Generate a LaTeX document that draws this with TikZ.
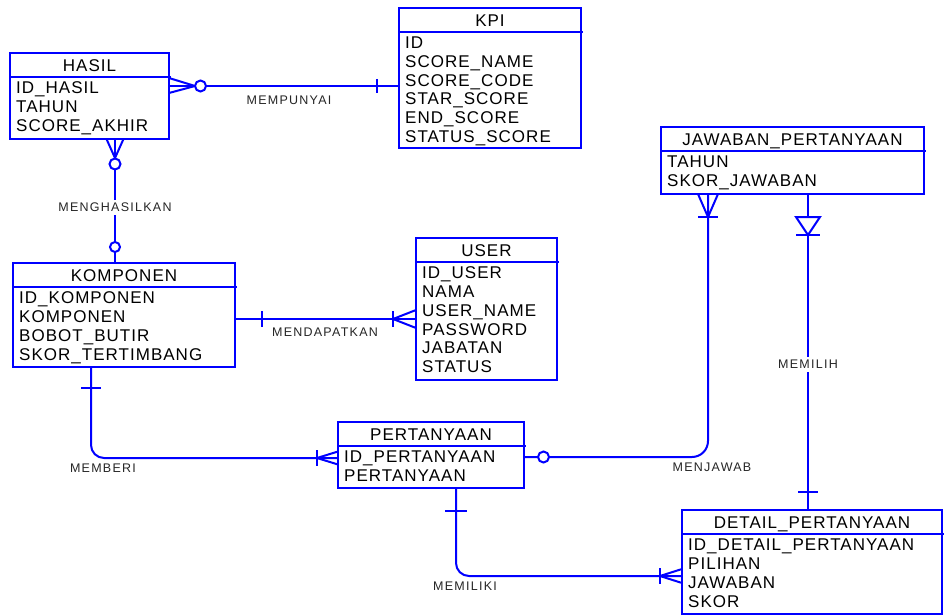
\documentclass[tikz,border=0pt]{standalone}
\usepackage{fontspec}
\setmainfont{Liberation Sans}
\newfontfamily\erfont{Liberation Sans}[LetterSpace=6]
\newfontfamily\relfont{Liberation Sans}[LetterSpace=10]
\usetikzlibrary{calc}

\definecolor{erblue}{RGB}{0,0,255}

\tikzset{
  er/.style={draw=erblue, line width=2pt},
  tbl/.style={draw=erblue, line width=2pt, rectangle, inner sep=0pt, outer sep=0pt, fill=white},
  ttl/.style={font=\erfont\fontsize{17}{20}\selectfont, inner sep=0pt, text height=12.2pt, text depth=0pt},
  fld/.style={font=\erfont\fontsize{17}{20}\selectfont, anchor=west, inner xsep=6pt, inner ysep=0pt, text height=12.2pt, text depth=0pt},
  rel/.style={font=\relfont\fontsize{12.5}{14}\selectfont, text=black!85, inner sep=1pt, text height=9pt, text depth=0pt},
  relw/.style={rel, fill=white, inner ysep=3pt}
}

% entity box: name, left, top, width, height, title, list of attributes
\newcommand{\erbox}[7]{%
  \node[tbl, minimum width=#4pt, minimum height=#5pt, anchor=north west] (#1) at (#2,#3) {};
  \draw[er] ($(#1.north west)+(0,24)$) -- ($(#1.north east)+(2,24)$);
  \node[ttl] (#1-t) at ($(#1.north)+(0,12)$) {#6};
  \foreach \r [count=\i] in {#7} {
    \node[fld] (#1-\i) at ($(#1.north west)+(0,{34.5+(\i-1)*18.8})$) {\r};
  }%
}

\begin{document}
\begin{tikzpicture}[x=1pt, y=-1pt]
\useasboundingbox[fill=white] (0,0) rectangle (944,615);

% ---------- entities ----------
\erbox{hasil}{10}{53}{159}{86}{HASIL}{ID\_HASIL,TAHUN,SCORE\_AKHIR}
\erbox{kpi}{399}{8}{182}{140}{KPI}{ID,SCORE\_NAME,SCORE\_CODE,STAR\_SCORE,END\_SCORE,STATUS\_SCORE}
\erbox{komponen}{13}{263}{222}{104}{KOMPONEN}{ID\_KOMPONEN,KOMPONEN,BOBOT\_BUTIR,SKOR\_TERTIMBANG}
\erbox{user}{416}{238}{141}{142}{USER}{ID\_USER,NAMA,USER\_NAME,PASSWORD,JABATAN,STATUS}
\erbox{pertanyaan}{338}{422}{186}{66}{PERTANYAAN}{ID\_PERTANYAAN,PERTANYAAN}
\erbox{jawaban}{661}{127}{263}{67}{JAWABAN\_PERTANYAAN}{TAHUN,SKOR\_JAWABAN}
\erbox{detail}{682}{510}{260}{104}{DETAIL\_PERTANYAAN}{ID\_DETAIL\_PERTANYAAN,PILIHAN,JAWABAN,SKOR}

% ---------- MEMPUNYAI : HASIL >o----| KPI ----------
\coordinate (a1) at ($(hasil.east)+(0,-10)$);
\coordinate (a2) at (a1 -| kpi.west);
\draw[er] (a1) -- (a2);
\draw[er] ($(a1)+(0,-8)$) -- ($(a1)+(26,0)$) -- ($(a1)+(0,7)$);
\draw[er, fill=white] ($(a1)+(31.5,0)$) circle (5.5pt);
\draw[er] ($(a2)+(-22,-7)$) -- ($(a2)+(-22,7)$);
\node[rel] (l-mempunyai) at (289,100) {MEMPUNYAI};

% ---------- MENGHASILKAN : HASIL >o----o KOMPONEN ----------
\coordinate (b1) at ($(hasil.south)+(25.5,0)$);
\coordinate (b2) at (b1 |- komponen.north);
\draw[er] (b1) -- (b2);
\draw[er] ($(b1)+(-8.5,0)$) -- ($(b1)+(0,19)$) -- ($(b1)+(8.5,0)$);
\draw[er, fill=white] ($(b1)+(0,25)$) circle (5.5pt);
\draw[er, fill=white] ($(b2)+(0,-16)$) circle (5pt);
\node[relw] (l-menghasilkan) at (115,207) {MENGHASILKAN};

% ---------- MENDAPATKAN : KOMPONEN |----|< USER ----------
\coordinate (c1) at ($(komponen.east)+(0,4)$);
\coordinate (c2) at (c1 -| user.west);
\draw[er] (c1) -- (c2);
\draw[er] ($(c1)+(27,-8)$) -- ($(c1)+(27,8)$);
\draw[er] ($(c2)+(0,-9)$) -- ($(c2)+(-23,0)$) -- ($(c2)+(0,9)$);
\draw[er] ($(c2)+(-23,-8)$) -- ($(c2)+(-23,8)$);
\node[rel] (l-mendapatkan) at (325,332) {MENDAPATKAN};

% ---------- MEMBERI : KOMPONEN |----|< PERTANYAAN ----------
\coordinate (d1) at ($(komponen.south)+(-33,0)$);
\coordinate (d2) at ($(pertanyaan.west)+(0,3)$);
\draw[er, rounded corners=13pt] (d1) -- (d1 |- d2) -- (d2);
\draw[er] ($(d1)+(-10,21)$) -- ($(d1)+(10,21)$);
\draw[er] ($(d2)+(0,-6.5)$) -- ($(d2)+(-21,0)$) -- ($(d2)+(0,6.5)$);
\draw[er] ($(d2)+(-21,-8)$) -- ($(d2)+(-21,8)$);
\node[rel] (l-memberi) at (103,468) {MEMBERI};

% ---------- MENJAWAB : PERTANYAAN o----|< JAWABAN_PERTANYAAN ----------
\coordinate (e1) at ($(pertanyaan.east)+(0,2)$);
\coordinate (e2) at ($(jawaban.south)+(-84.5,0)$);
\draw[er, rounded corners=16pt] (e1) -- (e1 -| e2) -- (e2);
\draw[er, fill=white] ($(e1)+(19.5,0)$) circle (5.5pt);
\draw[er] ($(e2)+(-10,0)$) -- ($(e2)+(0,23)$) -- ($(e2)+(10,0)$);
\draw[er] ($(e2)+(-10,23)$) -- ($(e2)+(10,23)$);
\node[rel] (l-menjawab) at (712,467) {MENJAWAB};

% ---------- MEMILIH : JAWABAN_PERTANYAAN (dependent) ---- DETAIL_PERTANYAAN ----------
\coordinate (f1) at ($(jawaban.south)+(15.5,0)$);
\coordinate (f2) at (f1 |- detail.north);
\draw[er] (f1) -- (f2);
\draw[er, fill=white, line join=miter] ($(f1)+(-12,23)$) -- ($(f1)+(12,23)$) -- ($(f1)+(0,41)$) -- cycle;
\draw[er] ($(f1)+(-12,41)$) -- ($(f1)+(12,41)$);
\draw[er] ($(f2)+(-10,-18)$) -- ($(f2)+(10,-18)$);
\node[relw] (l-memilih) at (808,364) {MEMILIH};

% ---------- MEMILIKI : PERTANYAAN |----|< DETAIL_PERTANYAAN ----------
\coordinate (g1) at ($(pertanyaan.south)+(25,0)$);
\coordinate (g2) at ($(detail.west)+(0,14)$);
\draw[er, rounded corners=13pt] (g1) -- (g1 |- g2) -- (g2);
\draw[er] ($(g1)+(-11,23)$) -- ($(g1)+(11,23)$);
\draw[er] ($(g2)+(0,-7)$) -- ($(g2)+(-22,0)$) -- ($(g2)+(0,7)$);
\draw[er] ($(g2)+(-22,-8)$) -- ($(g2)+(-22,8)$);
\node[rel] (l-memiliki) at (465,586) {MEMILIKI};
\end{tikzpicture}
\end{document}
